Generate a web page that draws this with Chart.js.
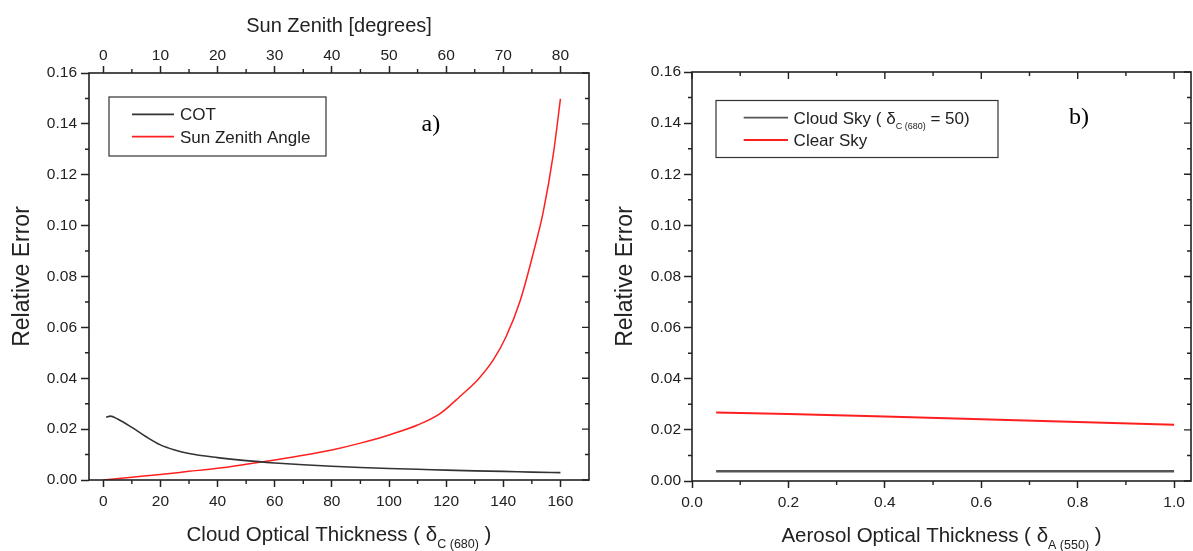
<!DOCTYPE html>
<html lang="en">
<head>
<meta charset="UTF-8">
<title>Relative error: COT, sun zenith and AOT</title>
<script src="https://cdn.jsdelivr.net/npm/chart.js"></script>
<style>
    body { margin: 0; background: #fff; }
    .wrap { position: relative; width: 1193px; height: 551px; overflow: hidden; }
    #chartA { position: absolute; left: 0; top: 0; }
    #chartB { position: absolute; left: 600px; top: 0; }
</style>
</head>
<body>
<div class="wrap">
    <canvas id="chartA" width="600" height="551"></canvas>
    <canvas id="chartB" width="593" height="551"></canvas>
</div>
<script>
// panel a) - error vs cloud optical thickness (bottom axis)
const cotValues = [1, 2.5, 5, 10, 15, 20, 25, 30, 40, 50, 60, 70, 80, 90, 100, 110, 120, 130, 140, 150, 160];
const cotError  = [0.0247, 0.0251, 0.0240, 0.0207, 0.0170, 0.0138, 0.0118, 0.0104, 0.0088, 0.0076, 0.0067,
                   0.0060, 0.0054, 0.0049, 0.0045, 0.0042, 0.0039, 0.0036, 0.0034, 0.0031, 0.0029];
// panel a) - error vs sun zenith angle (top axis, degrees)
const szaValues = [0, 5, 10, 15, 20, 25, 30, 35, 40, 45, 50, 55, 59, 62.5, 65.5, 68.25, 70.5, 73, 75.25, 77, 78.75, 80];
const szaError  = [0, 0.0011, 0.0022, 0.0034, 0.0046, 0.0062, 0.0079, 0.0097, 0.0118, 0.0145, 0.0177, 0.0216,
                   0.0262, 0.0330, 0.0393, 0.0472, 0.0564, 0.0708, 0.0892, 0.1055, 0.1280, 0.1498];
// panel b) - error vs aerosol optical thickness
const aotValues     = [0.05, 0.2, 0.4, 0.6, 0.8, 1.0];
const cloudSkyError = [0.0038, 0.0038, 0.0038, 0.0038, 0.0038, 0.0038];
const clearSkyError = [0.0268, 0.0262, 0.0252, 0.0242, 0.0231, 0.0220];

const yTicks = [0, 0.02, 0.04, 0.06, 0.08, 0.10, 0.12, 0.14, 0.16];

const FONT = "'Liberation Sans', Arial, sans-serif";
const INK = '#222';

function toXY(xs, ys) {
    return xs.map((x, i) => ({ x: x, y: ys[i] }));
}

function onStep(v, step) {
    const k = v / step;
    return Math.abs(k - Math.round(k)) < 1e-6;
}

function axis(o) {
    return {
        type: 'linear',
        position: o.position,
        min: o.min,
        max: o.max,
        afterBuildTicks: s => { s.ticks = s.ticks.filter(t => onStep(t.value, o.step)); },
        afterFit: s => { if (s.isHorizontal()) s.height = o.size; else s.width = o.size; },
        border: { display: false },
        grid: { display: true, drawOnChartArea: false, drawTicks: true, tickLength: o.tickLength, tickColor: INK, tickWidth: 1.5 },
        ticks: {
            stepSize: o.step, includeBounds: false, autoSkip: false, maxRotation: 0, minRotation: 0,
            padding: o.pad, color: INK, font: { family: FONT, size: 15.5 }, callback: o.fmt
        },
        title: o.title
            ? { display: true, text: o.title, color: INK, font: { family: FONT, size: o.titleSize }, padding: { top: o.titlePad, bottom: 0 } }
            : { display: false }
    };
}

function drawParts(ctx, parts, x, y, size, center) {
    const widths = parts.map(p => {
        ctx.font = (p.size || size) + 'px ' + FONT;
        return ctx.measureText(p.t).width;
    });
    let cx = center ? x - widths.reduce((a, b) => a + b, 0) / 2 : x;
    parts.forEach((p, i) => {
        ctx.font = (p.size || size) + 'px ' + FONT;
        ctx.fillText(p.t, cx, y + (p.dy || 0));
        cx += widths[i];
    });
}

// frame round the plot plus minor ticks and mirrored inward ticks
const frameTicks = {
    id: 'frameTicks',
    afterDatasetsDraw(chart, args, opts) {
        const { ctx, chartArea: a, scales } = chart;
        ctx.save();
        ctx.strokeStyle = INK;
        ctx.lineWidth = 1.6;
        ctx.strokeRect(a.left, a.top, a.right - a.left, a.bottom - a.top);
        ctx.lineWidth = 1.4;
        ctx.beginPath();
        opts.sides.forEach(sd => {
            const s = scales[sd.scale];
            const vals = s.ticks.map(t => t.value);
            const marks = [];
            vals.forEach((v, i) => {
                if (!sd.minorOnly) marks.push([v, opts.major]);
                if (i > 0) marks.push([(v + vals[i - 1]) / 2, opts.minor]);
            });
            const sign = sd.out ? 1 : -1;
            marks.forEach(([v, len]) => {
                const p = s.getPixelForValue(v);
                if (sd.edge === 'bottom') { ctx.moveTo(p, a.bottom); ctx.lineTo(p, a.bottom + sign * len); }
                if (sd.edge === 'top') { ctx.moveTo(p, a.top); ctx.lineTo(p, a.top - sign * len); }
                if (sd.edge === 'left') { ctx.moveTo(a.left, p); ctx.lineTo(a.left - sign * len, p); }
                if (sd.edge === 'right') { ctx.moveTo(a.right, p); ctx.lineTo(a.right + sign * len, p); }
            });
        });
        ctx.stroke();
        ctx.restore();
    }
};

// legend box inside the plot
const boxLegend = {
    id: 'boxLegend',
    afterDraw(chart, args, opts) {
        const ctx = chart.ctx;
        const [bx, by, bw, bh] = opts.box;
        ctx.save();
        ctx.strokeStyle = '#333';
        ctx.lineWidth = 1.2;
        ctx.strokeRect(bx, by, bw, bh);
        opts.items.forEach(it => {
            const ds = chart.data.datasets[it.dataset];
            ctx.strokeStyle = ds.borderColor;
            ctx.lineWidth = 1.8;
            ctx.beginPath();
            ctx.moveTo(opts.line[0], it.y);
            ctx.lineTo(opts.line[1], it.y);
            ctx.stroke();
            ctx.fillStyle = INK;
            ctx.textBaseline = 'alphabetic';
            drawParts(ctx, it.parts, opts.textX, it.y + 6, opts.size, false);
        });
        ctx.restore();
    }
};

// x axis title with subscript
const richTitle = {
    id: 'richTitle',
    afterDraw(chart, args, opts) {
        const { ctx, chartArea: a } = chart;
        ctx.save();
        ctx.fillStyle = INK;
        ctx.textBaseline = 'alphabetic';
        drawParts(ctx, opts.parts, (a.left + a.right) / 2, opts.baseline, opts.size, true);
        ctx.restore();
    }
};

const panelTag = {
    id: 'panelTag',
    afterDraw(chart, args, opts) {
        const ctx = chart.ctx;
        ctx.save();
        ctx.fillStyle = '#000';
        ctx.textBaseline = 'alphabetic';
        ctx.font = "24px 'Liberation Serif', 'Times New Roman', serif";
        ctx.fillText(opts.text, opts.x, opts.y);
        ctx.restore();
    }
};

const yFmt = v => v.toFixed(2);

new Chart(document.getElementById('chartA'), {
    type: 'line',
    data: {
        datasets: [
            { label: 'COT', data: toXY(cotValues, cotError), xAxisID: 'x', yAxisID: 'y',
              borderColor: '#333', borderWidth: 1.6, pointRadius: 0, cubicInterpolationMode: 'monotone' },
            { label: 'Sun Zenith Angle', data: toXY(szaValues, szaError), xAxisID: 'x2', yAxisID: 'y',
              borderColor: '#ff1f1f', borderWidth: 1.5, pointRadius: 0, cubicInterpolationMode: 'monotone' }
        ]
    },
    options: {
        responsive: false,
        animation: false,
        events: [],
        layout: { padding: { left: 0, top: 0, right: 11, bottom: 0 } },
        plugins: {
            legend: { display: false },
            tooltip: { enabled: false },
            frameTicks: {
                major: 7, minor: 4,
                sides: [
                    { scale: 'x', edge: 'bottom', out: true, minorOnly: true },
                    { scale: 'x2', edge: 'top', out: true, minorOnly: true },
                    { scale: 'y', edge: 'left', out: true, minorOnly: true },
                    { scale: 'y', edge: 'right', out: false }
                ]
            },
            boxLegend: {
                box: [109, 97, 217, 59], line: [132, 174], textX: 180, size: 17,
                items: [
                    { dataset: 0, y: 114.3, parts: [{ t: 'COT' }] },
                    { dataset: 1, y: 136.7, parts: [{ t: 'Sun Zenith Angle' }] }
                ]
            },
            richTitle: {
                baseline: 541, size: 20.5,
                parts: [{ t: 'Cloud Optical Thickness ( δ' }, { t: 'C (680)', size: 12.5, dy: 7 }, { t: ' )' }]
            },
            panelTag: { text: 'a)', x: 421.5, y: 131 }
        },
        scales: {
            x: axis({ position: 'bottom', min: -5, max: 170, step: 20, size: 71, tickLength: 7, pad: 5,
                      fmt: v => String(Math.round(v)) }),
            x2: axis({ position: 'top', min: -2.5, max: 85, step: 10, size: 73, tickLength: 7, pad: 1,
                       fmt: v => String(Math.round(v)), title: 'Sun Zenith [degrees]', titleSize: 20, titlePad: 14 }),
            y: axis({ position: 'left', min: yTicks[0], max: yTicks[yTicks.length - 1], step: 0.02, size: 89,
                      tickLength: 8, pad: 4, fmt: yFmt, title: 'Relative Error', titleSize: 23, titlePad: 9 })
        }
    },
    plugins: [frameTicks, boxLegend, richTitle, panelTag]
});

new Chart(document.getElementById('chartB'), {
    type: 'line',
    data: {
        datasets: [
            { label: 'Cloud Sky (δC(680) = 50)', data: toXY(aotValues, cloudSkyError),
              borderColor: '#555', borderWidth: 2.5, pointRadius: 0 },
            { label: 'Clear Sky', data: toXY(aotValues, clearSkyError),
              borderColor: '#ff1f1f', borderWidth: 2, pointRadius: 0 }
        ]
    },
    options: {
        responsive: false,
        animation: false,
        events: [],
        layout: { padding: { left: 0, top: 72, right: 2, bottom: 0 } },
        plugins: {
            legend: { display: false },
            tooltip: { enabled: false },
            frameTicks: {
                major: 7, minor: 4,
                sides: [
                    { scale: 'x', edge: 'bottom', out: true, minorOnly: true },
                    { scale: 'x', edge: 'top', out: false },
                    { scale: 'y', edge: 'left', out: true, minorOnly: true },
                    { scale: 'y', edge: 'right', out: false }
                ]
            },
            boxLegend: {
                box: [116, 100.5, 282, 57], line: [143.7, 188], textX: 193.6, size: 17,
                items: [
                    { dataset: 0, y: 117.7, parts: [{ t: 'Cloud Sky ( δ' }, { t: 'C (680)', size: 9, dy: 5 }, { t: ' = 50)' }] },
                    { dataset: 1, y: 140, parts: [{ t: 'Clear Sky' }] }
                ]
            },
            richTitle: {
                baseline: 541.5, size: 20.5,
                parts: [{ t: 'Aerosol Optical Thickness ( δ' }, { t: 'A (550)', size: 12.5, dy: 7 }, { t: ' )' }]
            },
            panelTag: { text: 'b)', x: 469, y: 124 }
        },
        scales: {
            x: axis({ position: 'bottom', min: 0, max: 1.035, step: 0.2, size: 70, tickLength: 7, pad: 5,
                      fmt: v => v.toFixed(1) }),
            y: axis({ position: 'left', min: yTicks[0], max: yTicks[yTicks.length - 1], step: 0.02, size: 92,
                      tickLength: 8, pad: 3, fmt: yFmt, title: 'Relative Error', titleSize: 23, titlePad: 12 })
        }
    },
    plugins: [frameTicks, boxLegend, richTitle, panelTag]
});
</script>
</body>
</html>
